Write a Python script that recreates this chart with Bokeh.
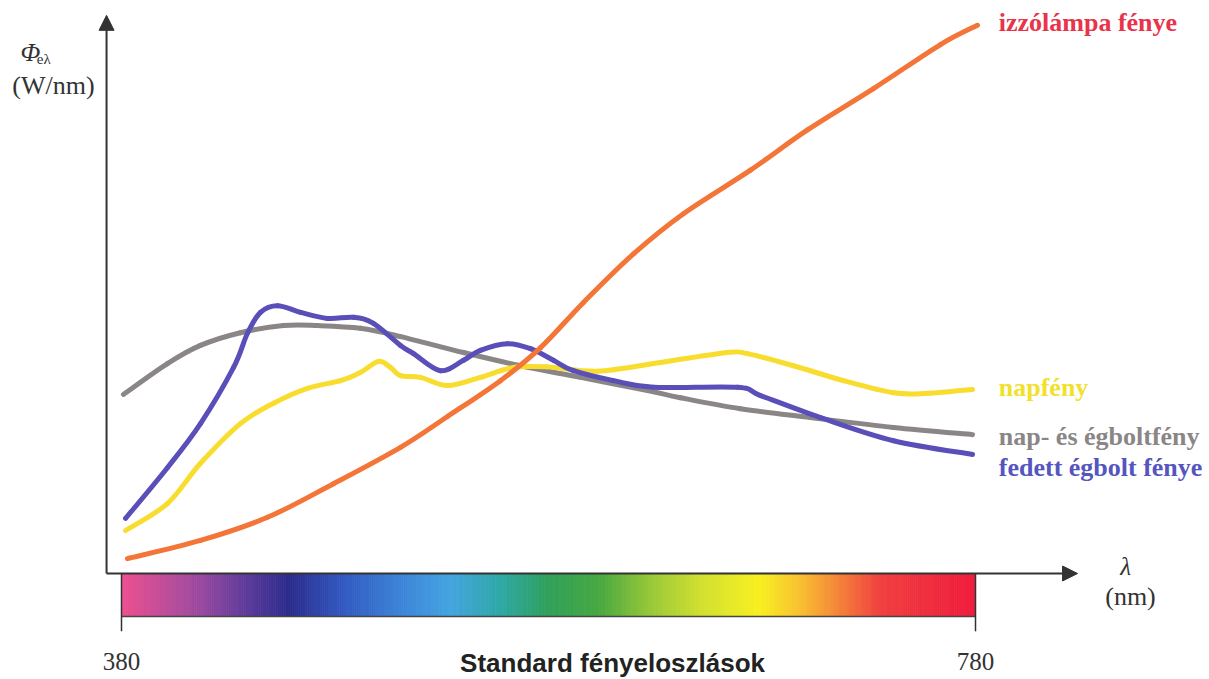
from bokeh.plotting import figure
from bokeh.models import Range1d, Arrow, NormalHead
from bokeh.core.properties import value
from bokeh.embed import file_html
from bokeh.resources import INLINE

# ---------------- data (wavelength nm, relative spectral power) ----------------
wl_izzo = [382.8, 417.0, 448.4, 479.3, 510.7, 532.7, 557.5, 576.3, 596.4, 619.8,
           643.2, 674.6, 701.3, 732.2, 763.6, 780.9]
val_izzo = [2.7, 6.0, 10.2, 16.3, 22.9, 28.5, 35.0, 41.0, 49.2, 58.0,
            65.3, 73.2, 80.5, 88.0, 96.0, 99.5]

wl_nap = [381.9, 401.5, 417.0, 435.7, 451.2, 467.1, 482.6, 491.9, 500.4, 506.0,
          510.7, 520.0, 532.7, 548.1, 563.6, 579.5, 602.9, 632.5, 663.8, 673.2,
          694.8, 718.2, 741.6, 757.5, 778.6]
val_nap = [7.8, 12.7, 20.0, 27.2, 30.9, 33.6, 35.0, 36.5, 38.5, 37.4,
           35.9, 35.6, 34.1, 35.6, 37.4, 37.5, 36.7, 38.3, 40.1, 39.9,
           37.7, 35.0, 32.8, 32.7, 33.4]

wl_nap_eg = [380.9, 401.5, 417.0, 435.7, 455.9, 471.8, 491.9, 510.7, 540.2, 566.9,
             595.0, 626.4, 641.8, 669.9, 702.7, 741.6, 778.6]
val_nap_eg = [32.5, 38.1, 41.4, 43.7, 45.0, 45.0, 44.5, 43.0, 40.1, 37.7,
              35.6, 33.2, 31.9, 29.9, 28.3, 26.5, 25.2]

wl_fedett = [381.9, 401.5, 417.0, 432.5, 439.0, 445.1, 453.1, 463.8, 476.5, 488.7,
             498.0, 510.7, 516.8, 529.4, 540.2, 548.1, 560.8, 571.6, 582.3, 591.7,
             610.4, 629.2, 668.5, 679.3, 707.4, 741.6, 778.6]
val_fedett = [10.0, 19.2, 27.2, 37.4, 43.6, 47.4, 48.6, 47.4, 46.3, 46.5,
              45.4, 41.4, 39.9, 36.8, 38.7, 40.5, 41.7, 40.8, 38.7, 36.8,
              35.0, 33.8, 33.8, 32.3, 28.3, 24.1, 21.6]

series_names = ["izzólámpa fénye", "napfény", "nap- és égboltfény", "fedett égbolt fénye"]

# visible spectrum colour stops
spec_wl = [380, 417, 440, 459, 483, 511, 534, 557, 581, 604, 628, 651, 679, 698, 717, 735, 780]
spec_col = ["#ee4f8f", "#9a4aa0", "#5a3a9a", "#2c2c8c", "#3258c0", "#3c84d8", "#44a4e0",
            "#2ea8a8", "#30a058", "#48a840", "#98c838", "#d0e030", "#f8f020", "#f8c030",
            "#f48038", "#f04040", "#f01c3c"]

# ---------------- figure ----------------
W, H = 1208, 678
PX_PER_NM = 2.135
PX_PER_UNIT = 5.51
X0 = 380 - 121 / PX_PER_NM
Y1 = 573 / PX_PER_UNIT
p = figure(width=W, height=H, output_backend="svg", toolbar_location=None,
           x_range=Range1d(X0, X0 + W / PX_PER_NM),
           y_range=Range1d(Y1 - H / PX_PER_UNIT, Y1),
           x_axis_location=None, y_axis_location=None, min_border=0,
           min_border_left=0, min_border_right=0, min_border_top=0, min_border_bottom=0)
p.grid.visible = False
p.outline_line_color = None
p.background_fill_color = "white"
p.border_fill_color = "white"

AXIS_X = 373.0      # wavelength position of the vertical axis
X_END = 827.8
Y_END = 101.3
BAR_BOTTOM = -7.8
TICK_BOTTOM = -10.5


def hex2rgb(h):
    h = h.lstrip("#")
    return tuple(int(h[i:i + 2], 16) for i in (0, 2, 4))


def col_at(w):
    for i in range(len(spec_wl) - 1):
        if spec_wl[i] <= w <= spec_wl[i + 1]:
            t = (w - spec_wl[i]) / (spec_wl[i + 1] - spec_wl[i])
            a, b = hex2rgb(spec_col[i]), hex2rgb(spec_col[i + 1])
            r = [round(a[k] + (b[k] - a[k]) * t) for k in range(3)]
            return "#%02x%02x%02x" % tuple(r)
    return spec_col[-1]


lefts = [spec_wl[0] + i for i in range(spec_wl[-1] - spec_wl[0])]
rights = [l + 1 for l in lefts]
cols = [col_at(l + 0.5) for l in lefts]
p.quad(left=lefts, right=rights, top=0, bottom=BAR_BOTTOM, fill_color=cols,
       line_color=cols, line_width=0.8)
p.line([spec_wl[0], spec_wl[-1]], [BAR_BOTTOM, BAR_BOTTOM], line_color="#444444", line_width=1.3)
p.segment(x0=[spec_wl[0], spec_wl[-1]], y0=[0, 0], x1=[spec_wl[0], spec_wl[-1]],
          y1=[TICK_BOTTOM, TICK_BOTTOM], line_color="#333333", line_width=1.5)


def smooth_curve(xs, ys, color):
    """Draw a smooth curve through the data points (Catmull-Rom as cubic Beziers)."""
    n = len(xs)
    X = [xs[0]] + list(xs) + [xs[-1]]
    Y = [ys[0]] + list(ys) + [ys[-1]]
    x0, y0, x1, y1, cx0, cy0, cx1, cy1 = [], [], [], [], [], [], [], []
    for i in range(1, n):
        x0.append(X[i]); y0.append(Y[i])
        x1.append(X[i + 1]); y1.append(Y[i + 1])
        cx0.append(X[i] + (X[i + 1] - X[i - 1]) / 6)
        cy0.append(Y[i] + (Y[i + 1] - Y[i - 1]) / 6)
        cx1.append(X[i + 1] - (X[i + 2] - X[i]) / 6)
        cy1.append(Y[i + 1] - (Y[i + 2] - Y[i]) / 6)
    p.bezier(x0=x0, y0=y0, x1=x1, y1=y1, cx0=cx0, cy0=cy0, cx1=cx1, cy1=cy1,
             line_color=color, line_width=5, line_cap="round")


smooth_curve(wl_nap_eg, val_nap_eg, "#8a8686")
smooth_curve(wl_nap, val_nap, "#f9dd2e")
smooth_curve(wl_fedett, val_fedett, "#5a4fb8")
smooth_curve(wl_izzo, val_izzo, "#f47538")

# axes with arrows
p.add_layout(Arrow(end=NormalHead(size=15, fill_color="#333333", line_color="#333333"),
                   x_start=AXIS_X, y_start=0, x_end=X_END, y_end=0,
                   line_color="#333333", line_width=2))
p.add_layout(Arrow(end=NormalHead(size=15, fill_color="#333333", line_color="#333333"),
                   x_start=AXIS_X, y_start=0, x_end=AXIS_X, y_end=Y_END,
                   line_color="#333333", line_width=2))

serif = value("Liberation Serif")

# series labels
lab_x = wl_izzo[-1] + 10
p.text(x=[lab_x] * 4, y=[100.0, 33.8, 24.9, 19.2], text=series_names,
       text_color=["#e8334a", "#f2e12a", "#8a8686", "#5555c0"],
       text_font=serif, text_font_style="bold", text_font_size="26px",
       text_baseline="middle", text_align="left")

# y axis title
p.text(x=[332.7], y=[94.6], text=["Φ"], text_font=serif, text_font_style="italic",
       text_font_size="26px", text_baseline="middle", text_align="left", text_color="#333333")
p.text(x=[340.3], y=[93.3], text=["eλ"], text_font=serif, text_font_size="15px",
       text_baseline="middle", text_align="left", text_color="#333333")
p.text(x=[348.1], y=[88.6], text=["(W/nm)"], text_font=serif, text_font_size="26px",
       text_baseline="middle", text_align="center", text_color="#333333")

# x axis title
p.text(x=[850.3], y=[1.3], text=["λ"], text_font=serif, text_font_style="italic",
       text_font_size="25px", text_baseline="middle", text_align="center", text_color="#333333")
p.text(x=[852.6], y=[-4.2], text=["(nm)"], text_font=serif, text_font_size="26px",
       text_baseline="middle", text_align="center", text_color="#333333")

# tick labels
p.text(x=[spec_wl[0], spec_wl[-1]], y=[-16.0, -16.0], text=[str(spec_wl[0]), str(spec_wl[-1])],
       text_font=serif, text_font_size="25px", text_baseline="middle", text_align="center",
       text_color="#333333")

p.text(x=[610.0], y=[-16.3], text=["Standard fényeloszlások"], text_font=value("Liberation Sans"),
       text_font_style="bold", text_font_size="26px", text_baseline="middle", text_align="center",
       text_color="#222222")

open("out.html", "w").write(file_html(p, INLINE))
